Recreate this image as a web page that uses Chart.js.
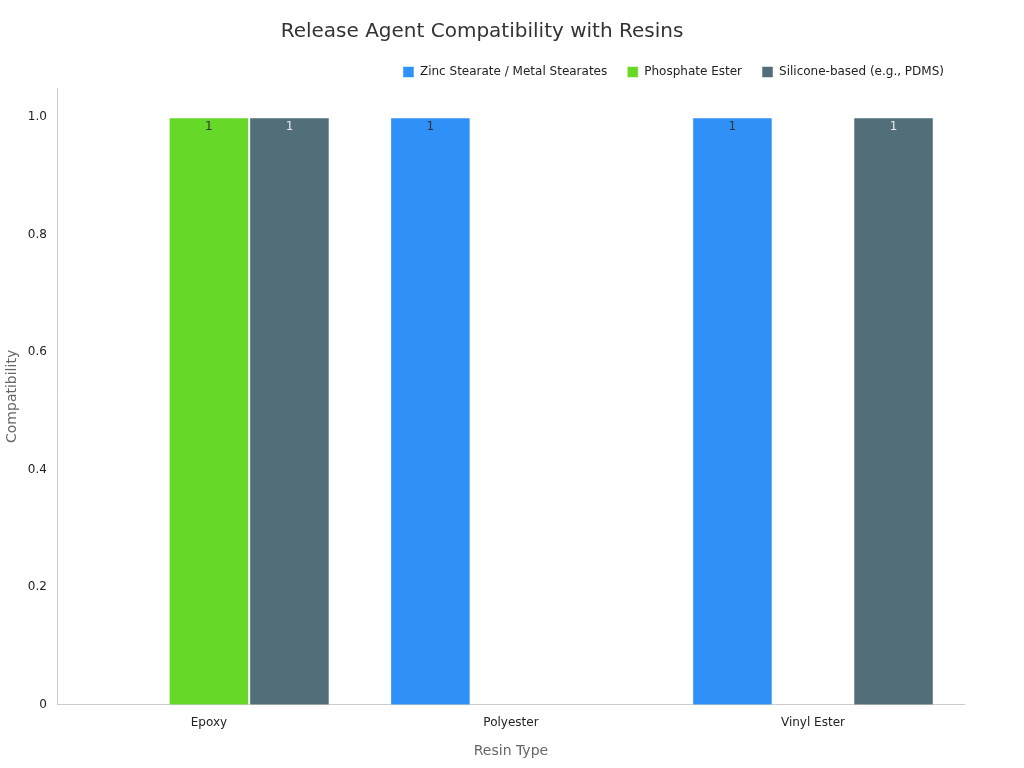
<!DOCTYPE html>
<html><head><meta charset="utf-8">
<script src="https://cdn.jsdelivr.net/npm/chart.js@4"></script>
<style>html,body{margin:0;padding:0;background:#fff}#w{width:1024px;height:768px}</style>
</head><body><div id="w"><canvas id="c" width="1024" height="768"></canvas></div>
<script>
const categories = ["Epoxy", "Polyester", "Vinyl Ester"];
const seriesNames = ["Zinc Stearate / Metal Stearates", "Phosphate Ester", "Silicone-based (e.g., PDMS)"];
const zincValues = [0, 1, 1];
const phosphateValues = [1, 0, 0];
const siliconeValues = [1, 0, 1];
const colors = ["#2f90f8", "#66d928", "#526e78"];
const labelColors = ["#333333", "#333333", "#e8e8e8"];

const labelPlugin = {
  id: 'lbl',
  afterDatasetsDraw(chart) {
    const ctx = chart.ctx;
    ctx.save();
    ctx.font = '12px "DejaVu Sans"';
    ctx.textAlign = 'center';
    ctx.textBaseline = 'top';
    chart.data.datasets.forEach((ds, i) => {
      chart.getDatasetMeta(i).data.forEach((bar, j) => {
        const v = ds.data[j];
        if (!v) return;
        ctx.fillStyle = labelColors[i];
        ctx.fillText(String(v), bar.x, bar.y + 4);
      });
    });
    ctx.restore();
  }
};

new Chart(document.getElementById('c'), {
  type: 'bar',
  data: {
    labels: categories,
    datasets: [zincValues, phosphateValues, siliconeValues].map((d, i) => ({
      label: seriesNames[i], data: d, backgroundColor: colors[i],
      borderColor: 'rgba(255,255,255,0.5)', borderWidth: 1,
      categoryPercentage: 0.8, barPercentage: 1
    }))
  },
  options: {
    responsive: false, animation: false,
    layout: { padding: { left: 0, right: 60, top: 0, bottom: 4 } },
    plugins: {
      title: { display: true, text: 'Release Agent Compatibility with Resins', color: '#333',
        font: { family: 'DejaVu Sans', size: 20, weight: 'normal' }, padding: { top: 20, bottom: 2 } },
      legend: { align: 'end', labels: { boxWidth: 11, boxHeight: 11, padding: 20, color: '#222',
        font: { family: 'DejaVu Sans', size: 12 } } },
      tooltip: { enabled: false }
    },
    scales: {
      x: { grid: { display: false, drawTicks: true }, border: { color: '#ccc' },
        ticks: { color: '#222', font: { family: 'DejaVu Sans', size: 12 } },
        title: { display: true, text: 'Resin Type', color: '#666', font: { family: 'DejaVu Sans', size: 14 }, padding: { top: 10 } } },
      y: { min: 0, max: 1.05, grid: { display: false }, border: { color: '#ccc' },
        afterBuildTicks: (ax) => { ax.ticks = [0,0.2,0.4,0.6,0.8,1].map(v => ({ value: v })); },
        ticks: { color: '#222', font: { family: 'DejaVu Sans', size: 12 } },
        title: { display: true, text: 'Compatibility', color: '#666', font: { family: 'DejaVu Sans', size: 14 } } }
    }
  },
  plugins: [labelPlugin]
});
</script></body></html>
